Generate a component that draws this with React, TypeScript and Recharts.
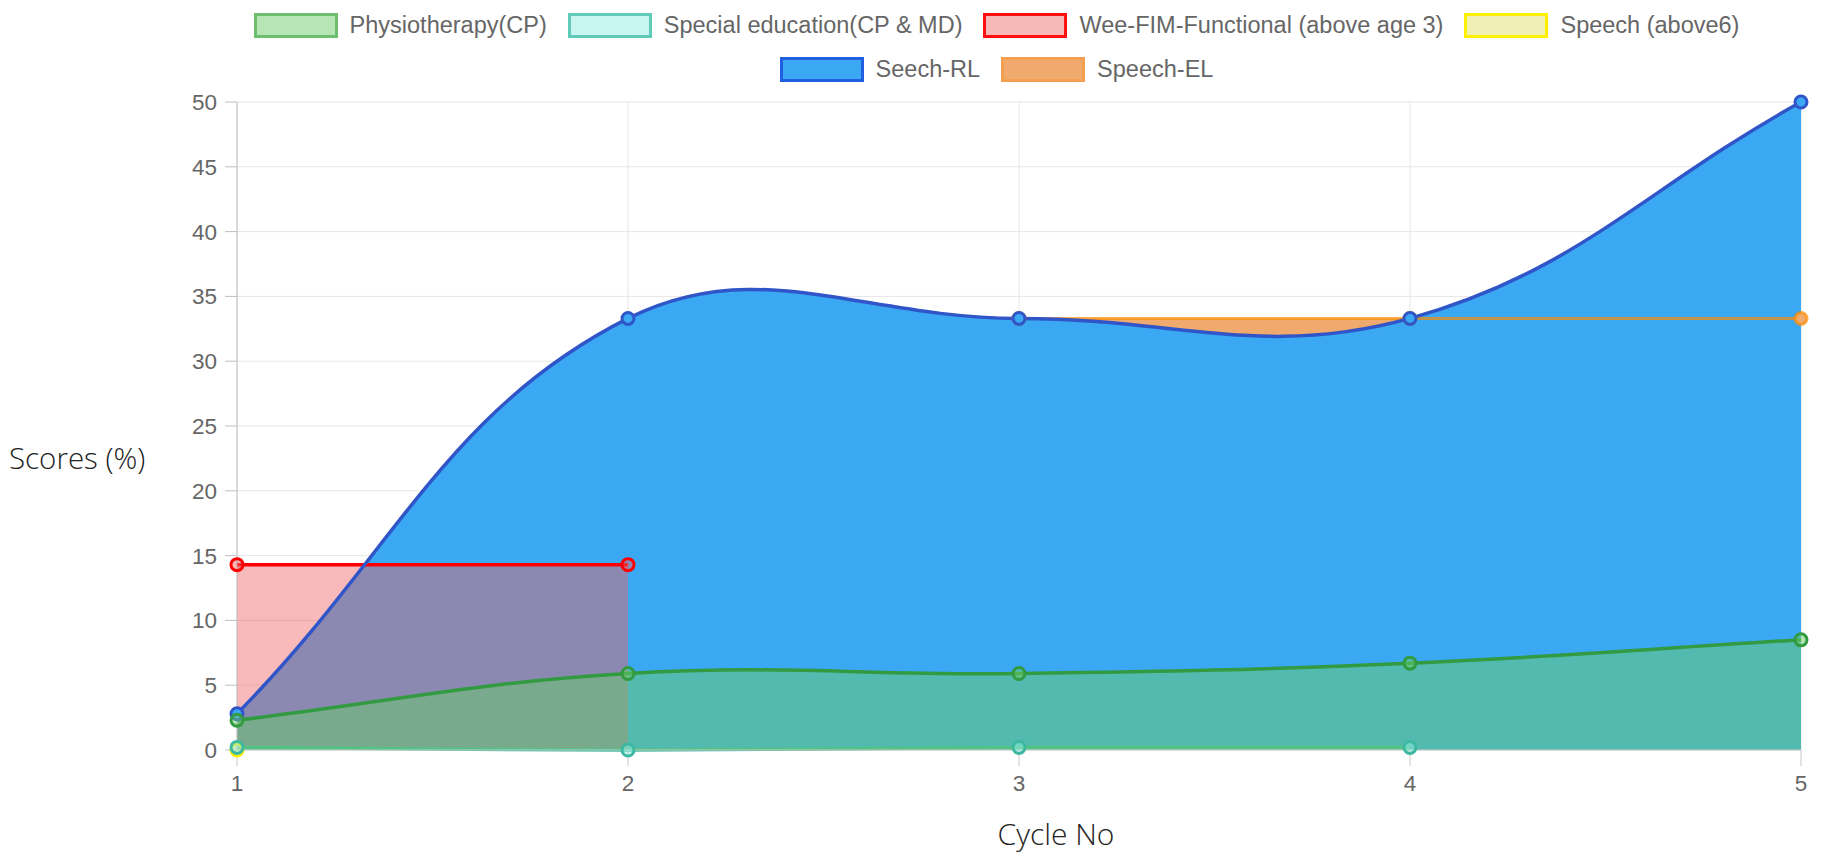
import React from "react";
import { ComposedChart, Area, Line, XAxis, YAxis, CartesianGrid } from "recharts";

// cycle numbers on the x axis
const cycles = [1, 2, 3, 4, 5];
const yTicks = [0, 5, 10, 15, 20, 25, 30, 35, 40, 45, 50];

// scores (%) per cycle, null = no value for that cycle
const physiotherapy = [2.3, 5.9, 5.9, 6.7, 8.5];
const specialEducation = [0.2, 0, 0.2, 0.2, null];
const weeFim = [14.3, 14.3, null, null, null];
const speechAbove6 = [0, null, null, null, null];
const speechRL = [2.8, 33.3, 33.3, 33.3, 50];
const speechEL = [null, null, 33.3, 33.3, 33.3];

const data = cycles.map((cycle, i) => ({
  cycle,
  physio: physiotherapy[i],
  special: specialEducation[i],
  wee: weeFim[i],
  above6: speechAbove6[i],
  rl: speechRL[i],
  el: speechEL[i],
}));

const series = {
  physio: { name: "Physiotherapy(CP)", stroke: "rgb(50,155,65)", fill: "rgba(105,204,105,0.5)", box: "#b6e6b6", border: "#6cbf6c" },
  special: { name: "Special education(CP & MD)", stroke: "rgb(60,185,160)", fill: "rgba(145,235,225,0.5)", box: "#c9f5f0", border: "#5fcab8" },
  wee: { name: "Wee-FIM-Functional (above age 3)", stroke: "#ff0000", fill: "rgba(237,99,99,0.45)", box: "#f7b8b8", border: "#ff1010" },
  above6: { name: "Speech (above6)", stroke: "#ffee00", fill: "rgba(225,225,105,0.5)", box: "#f0f0b4", border: "#fff000" },
  rl: { name: "Seech-RL", stroke: "#2f55c8", fill: "#3ba8f3", box: "#3ba8f3", border: "#1f5fe0" },
  el: { name: "Speech-EL", stroke: "rgba(255,140,0,0.7)", fill: "rgb(240,170,110)", box: "#f0aa6e", border: "#f5a050" },
};

const legendRows = [
  ["physio", "special", "wee", "above6"],
  ["rl", "el"],
];

// chart.js style bezier (tension 0.4) so the lines overshoot the same way
const TENSION = 0.4;
function chartJsCurve(context: any) {
  let pts: number[][] = [];
  let line = NaN;
  return {
    areaStart() { line = 0; },
    areaEnd() { line = NaN; },
    lineStart() { pts = []; },
    lineEnd() {
      const n = pts.length;
      if (n > 0) {
        if (line) context.lineTo(pts[0][0], pts[0][1]);
        else context.moveTo(pts[0][0], pts[0][1]);
        const cps = pts.map((p, i) => {
          const prev = pts[i - 1] || p;
          const next = pts[i + 1] || p;
          const d01 = Math.hypot(p[0] - prev[0], p[1] - prev[1]);
          const d12 = Math.hypot(next[0] - p[0], next[1] - p[1]);
          const fa = TENSION * (d01 / (d01 + d12) || 0);
          const fb = TENSION * (d12 / (d01 + d12) || 0);
          return {
            px: p[0] - fa * (next[0] - prev[0]),
            py: p[1] - fa * (next[1] - prev[1]),
            nx: p[0] + fb * (next[0] - prev[0]),
            ny: p[1] + fb * (next[1] - prev[1]),
          };
        });
        for (let i = 1; i < n; i++) {
          context.bezierCurveTo(cps[i - 1].nx, cps[i - 1].ny, cps[i].px, cps[i].py, pts[i][0], pts[i][1]);
        }
      }
      if (line || (line !== 0 && n === 1)) context.closePath();
      line = 1 - line;
    },
    point(x: number, y: number) { pts.push([+x, +y]); },
  };
}

const dotFor = (key: keyof typeof series) => ({
  r: 6,
  strokeWidth: 3,
  fill: series[key].fill,
  stroke: series[key].stroke,
});

function fullArea(key: keyof typeof series) {
  return (
    <Area
      key={key}
      dataKey={key}
      type={chartJsCurve as any}
      stroke={series[key].stroke}
      strokeWidth={3.5}
      fill={series[key].fill}
      fillOpacity={1}
      dot={dotFor(key)}
      activeDot={false}
      isAnimationActive={false}
    />
  );
}

function ChartLegend() {
  return (
    <div style={{ position: "absolute", left: 171, top: 12, width: 1651 }}>
      {legendRows.map((row, r) => (
        <div key={r} style={{ display: "flex", justifyContent: "center", gap: 21, height: 26, marginBottom: 18 }}>
          {row.map((k) => {
            const s = series[k as keyof typeof series];
            return (
              <div key={k} style={{ display: "flex", alignItems: "center", gap: 12 }}>
                <div style={{ width: 78, height: 19, background: s.box, border: `3px solid ${s.border}` }} />
                <span style={{ fontSize: 23.5, color: "#666", lineHeight: "26px" }}>{s.name}</span>
              </div>
            );
          })}
        </div>
      ))}
    </div>
  );
}

export default function App() {
  return (
    <div
      style={{
        position: "absolute",
        left: 0,
        top: 0,
        width: 1822,
        height: 859,
        background: "#fff",
        fontFamily: "'Liberation Sans', Arial, sans-serif",
      }}
    >
      <div style={{ position: "absolute", left: 0, top: 0 }}>
        <ComposedChart width={1822} height={859} data={data} margin={{ top: 102, right: 21, bottom: 59, left: 150 }}>
          <CartesianGrid stroke="#e6e6e6" />
          <XAxis
            dataKey="cycle"
            type="number"
            domain={[1, 5]}
            ticks={cycles}
            height={50}
            stroke="#c8c8c8"
            tickSize={16}
            tickMargin={9}
            tick={{ fill: "#666", fontSize: 22.5 }}
          />
          <YAxis
            type="number"
            domain={[0, 50]}
            ticks={yTicks}
            width={87}
            stroke="#c0c0c0"
            tickSize={12}
            tickMargin={8}
            tick={{ fill: "#666", fontSize: 22.5 }}
          />
          {/* fills of the speech series first, their lines above */}
          <Area dataKey="el" type={chartJsCurve as any} stroke="none" fill={series.el.fill} fillOpacity={1} dot={false} activeDot={false} isAnimationActive={false} />
          <Area dataKey="rl" type={chartJsCurve as any} stroke="none" fill={series.rl.fill} fillOpacity={1} dot={false} activeDot={false} isAnimationActive={false} />
          <Line dataKey="el" type={chartJsCurve as any} stroke={series.el.stroke} strokeWidth={3} dot={dotFor("el")} activeDot={false} isAnimationActive={false} />
          <Line dataKey="rl" type={chartJsCurve as any} stroke={series.rl.stroke} strokeWidth={3.5} dot={dotFor("rl")} activeDot={false} isAnimationActive={false} />
          {fullArea("above6")}
          {fullArea("wee")}
          {fullArea("special")}
          {fullArea("physio")}
        </ComposedChart>
      </div>
      <ChartLegend />
      <div style={{ position: "absolute", left: 9, top: 438, fontFamily: "'Open Sans', sans-serif", fontWeight: 300, fontSize: 29.5, color: "#222", whiteSpace: "nowrap", lineHeight: "40px" }}>
        Scores (%)
      </div>
      <div style={{ position: "absolute", left: 1056, top: 814, transform: "translateX(-50%)", fontFamily: "'Open Sans', sans-serif", fontWeight: 300, fontSize: 30, color: "#222", whiteSpace: "nowrap", lineHeight: "40px" }}>
        Cycle No
      </div>
    </div>
  );
}
